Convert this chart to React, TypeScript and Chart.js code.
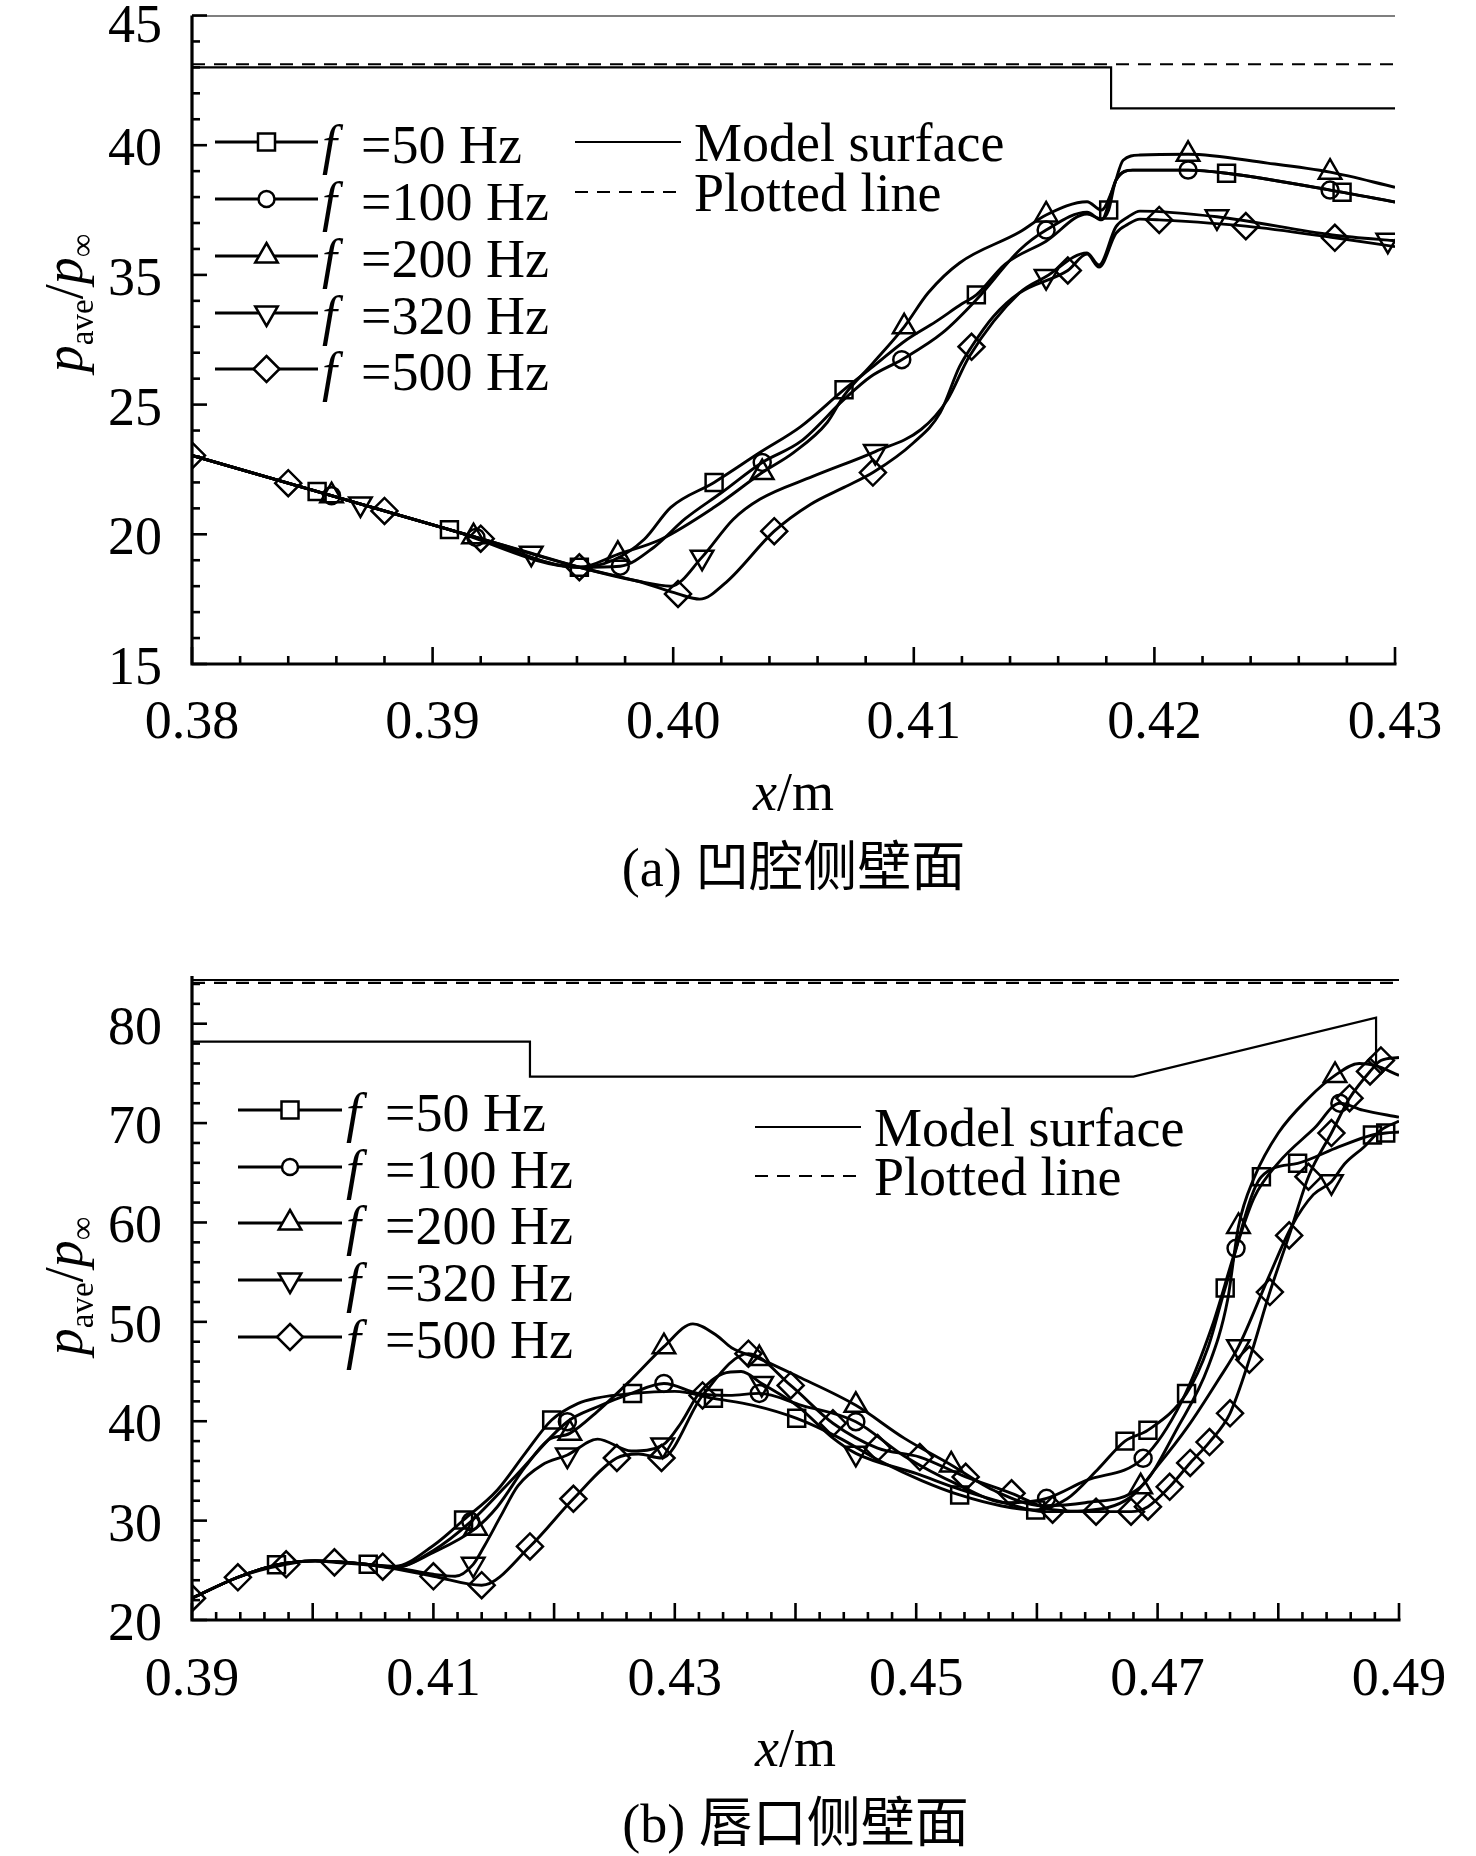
import React, { useEffect, useRef } from "react";
import { Chart, registerables } from "chart.js";
Chart.register(...registerables);

const SERIF = '"Liberation Serif", "Times New Roman", serif';
const CAPFONT = '"Liberation Serif", "Noto Sans CJK SC", serif';
const FS = 54;

// ---------------- shared ----------------
const freqs = [50, 100, 200, 320, 500];
const modelLegend = ["Model surface", "Plotted line"];

// ---------------- panel (a) ----------------
const aXTickValues = [0.38, 0.39, 0.4, 0.41, 0.42, 0.43];
const aXTickLabels = ["0.38", "0.39", "0.40", "0.41", "0.42", "0.43"];
const aYTickLabels = [15, 20, 25, 35, 40, 45]; // as printed, bottom to top (evenly spaced)
const aCaption = "(a) 凹腔侧壁面";

const a50X = [0.38, 0.3852, 0.3907, 0.3961, 0.3975, 0.3988, 0.3999, 0.4017, 0.4036, 0.4053, 0.4071, 0.4083, 0.4097, 0.4109, 0.412, 0.4126, 0.4138, 0.4155, 0.4172, 0.4178, 0.4181, 0.4184, 0.4191, 0.4214, 0.423, 0.4278, 0.43];
const a50Y = [23.04, 21.65, 20.18, 18.73, 19.0, 19.81, 21.04, 22.0, 23.15, 24.15, 26.15, 27.92, 30.0, 31.38, 32.77, 33.46, 35.42, 36.3, 37.35, 37.15, 37.5, 38.65, 39.04, 39.04, 38.92, 38.19, 37.81];
const a50M = [0.3852, 0.3907, 0.3961, 0.4017, 0.4071, 0.4126, 0.4181, 0.423, 0.4278];

const a100X = [0.38, 0.3858, 0.3918, 0.3961, 0.3978, 0.3992, 0.4005, 0.402, 0.4037, 0.4053, 0.4071, 0.4082, 0.4095, 0.4112, 0.4126, 0.4144, 0.4155, 0.4172, 0.4178, 0.4184, 0.4191, 0.4214, 0.423, 0.4273, 0.43];
const a100Y = [23.04, 21.49, 19.88, 18.73, 18.77, 19.5, 20.6, 21.6, 22.77, 23.58, 25.4, 27.15, 28.46, 30.54, 33.08, 35.96, 36.73, 37.42, 37.12, 38.65, 39.04, 39.04, 38.92, 38.27, 37.81];
const a100M = [0.3858, 0.3918, 0.3978, 0.4037, 0.4095, 0.4155, 0.4214, 0.4273];

const a200X = [0.38, 0.3858, 0.3917, 0.3961, 0.3977, 0.3995, 0.4017, 0.4037, 0.405, 0.4064, 0.4071, 0.4083, 0.4096, 0.4106, 0.4119, 0.4144, 0.4155, 0.4172, 0.4178, 0.4183, 0.4187, 0.4194, 0.4214, 0.4247, 0.4273, 0.43];
const a200Y = [23.04, 21.49, 19.91, 18.73, 19.23, 19.81, 21.04, 22.38, 23.15, 24.31, 25.7, 28.2, 31.0, 33.62, 35.46, 36.65, 37.31, 37.82, 37.5, 38.38, 39.42, 39.62, 39.65, 39.31, 38.96, 38.38];
const a200M = [0.3858, 0.3917, 0.3977, 0.4037, 0.4096, 0.4155, 0.4214, 0.4273];

const a320X = [0.38, 0.387, 0.3941, 0.3961, 0.3985, 0.3999, 0.4012, 0.4025, 0.4036, 0.4058, 0.4084, 0.4103, 0.4114, 0.4123, 0.4144, 0.4155, 0.4172, 0.4177, 0.4184, 0.4189, 0.4194, 0.4226, 0.4274, 0.4297, 0.43];
const a320Y = [23.04, 21.17, 19.27, 18.73, 18.2, 18.0, 19.12, 20.58, 21.35, 22.23, 23.19, 24.04, 25.38, 28.69, 33.62, 34.87, 35.85, 35.38, 36.85, 37.23, 37.46, 37.24, 36.54, 36.34, 36.32];
const a320M = [0.387, 0.3941, 0.4012, 0.4084, 0.4155, 0.4226, 0.4297];

const a500X = [0.38, 0.384, 0.388, 0.392, 0.3961, 0.3985, 0.4002, 0.4011, 0.4022, 0.4042, 0.4057, 0.4071, 0.4083, 0.41, 0.4111, 0.4119, 0.4124, 0.4133, 0.4144, 0.4164, 0.4172, 0.4177, 0.4184, 0.4189, 0.4194, 0.4202, 0.4238, 0.4275, 0.43];
const a500Y = [23.04, 21.97, 20.9, 19.83, 18.73, 18.2, 17.7, 17.5, 18.15, 20.12, 21.15, 21.81, 22.38, 23.54, 24.69, 27.92, 29.46, 31.77, 33.62, 35.17, 35.8, 35.3, 36.6, 36.95, 37.15, 37.12, 36.88, 36.43, 36.09];
const a500M = [0.38, 0.384, 0.388, 0.392, 0.3961, 0.4002, 0.4042, 0.4083, 0.4124, 0.4164, 0.4202, 0.4238, 0.4275];

const aTopX = [0.38, 0.43];
const aTopY = [45, 45];
const aModelX = [0.38, 0.4182, 0.4182, 0.43];
const aModelY = [43.0, 43.0, 41.42, 41.42];
const aPlottedX = [0.38, 0.43];
const aPlottedY = [43.12, 43.12];

// ---------------- panel (b) ----------------
const bXLabelValues = [0.39, 0.41, 0.43, 0.45, 0.47, 0.49];
const bXTickLabels = ["0.39", "0.41", "0.43", "0.45", "0.47", "0.49"];
const bYTickLabels = [20, 30, 40, 50, 60, 70, 80];
const bCaption = "(b) 唇口侧壁面";

const b50X = [0.39, 0.3938, 0.397, 0.4002, 0.4046, 0.4068, 0.41, 0.4125, 0.4153, 0.4176, 0.4198, 0.422, 0.4234, 0.4265, 0.43, 0.4332, 0.4365, 0.4401, 0.4435, 0.447, 0.4505, 0.4536, 0.457, 0.4599, 0.4625, 0.465, 0.4673, 0.4692, 0.4724, 0.4742, 0.4756, 0.4786, 0.4816, 0.485, 0.4878, 0.4889, 0.49];
const b50Y = [22.2, 24.3, 25.55, 25.95, 25.6, 25.4, 27.5, 30.06, 33.08, 36.77, 40.12, 41.8, 42.3, 42.8, 43.0, 42.3, 41.6, 40.29, 38.4, 36.0, 34.0, 32.58, 31.5, 31.07, 32.2, 35.1, 38.0, 39.1, 42.8, 47.5, 53.4, 64.6, 65.95, 67.6, 68.8, 69.0, 69.1];
const b50M = [0.397, 0.4046, 0.4125, 0.4198, 0.4265, 0.4332, 0.4401, 0.4536, 0.4599, 0.4673, 0.4692, 0.4724, 0.4756, 0.4786, 0.4816, 0.4878, 0.4889];

const b100X = [0.39, 0.3938, 0.397, 0.4002, 0.4046, 0.4068, 0.41, 0.4131, 0.4168, 0.4211, 0.4236, 0.4264, 0.4291, 0.4319, 0.4345, 0.437, 0.4405, 0.445, 0.449, 0.4535, 0.4575, 0.4608, 0.464, 0.4688, 0.472, 0.4745, 0.4765, 0.478, 0.48, 0.483, 0.4851, 0.487, 0.49];
const b100Y = [22.2, 24.3, 25.55, 25.95, 25.6, 25.3, 27.0, 29.9, 34.5, 39.95, 41.46, 42.8, 43.8, 42.8, 42.6, 42.8, 41.6, 39.95, 36.5, 33.6, 31.8, 32.24, 34.0, 36.27, 42.0, 49.5, 57.4, 62.5, 66.0, 69.5, 72.0, 71.3, 70.6];
const b100M = [0.4131, 0.4211, 0.4291, 0.437, 0.445, 0.4608, 0.4688, 0.4765, 0.4851];

const b200X = [0.39, 0.3938, 0.397, 0.4002, 0.4046, 0.4068, 0.41, 0.4135, 0.4153, 0.4176, 0.4195, 0.4213, 0.4236, 0.4264, 0.4291, 0.4315, 0.4335, 0.4347, 0.437, 0.4402, 0.445, 0.449, 0.4529, 0.4565, 0.4605, 0.464, 0.4686, 0.4717, 0.4742, 0.4758, 0.4767, 0.478, 0.48, 0.4825, 0.4847, 0.4867, 0.488, 0.49];
const b200Y = [22.2, 24.3, 25.55, 25.95, 25.6, 25.3, 26.8, 29.22, 31.4, 35.4, 38.1, 38.78, 41.0, 44.2, 47.5, 49.8, 48.6, 47.4, 46.3, 44.5, 41.6, 38.3, 35.6, 33.0, 31.5, 31.8, 33.4, 39.45, 45.5, 52.2, 59.6, 64.5, 69.0, 72.5, 74.8, 76.0, 75.8, 74.8];
const b200M = [0.4135, 0.4213, 0.4291, 0.437, 0.445, 0.4529, 0.4686, 0.4767, 0.4847];

const b320X = [0.39, 0.3938, 0.397, 0.4002, 0.4046, 0.4068, 0.41, 0.4118, 0.4133, 0.4142, 0.4156, 0.417, 0.419, 0.4211, 0.4236, 0.4264, 0.429, 0.4305, 0.432, 0.434, 0.4355, 0.4372, 0.4402, 0.443, 0.445, 0.4501, 0.4535, 0.4576, 0.4606, 0.464, 0.4678, 0.47, 0.4725, 0.475, 0.4767, 0.4792, 0.4811, 0.4829, 0.4844, 0.4855, 0.4871, 0.4885, 0.49];
const b320Y = [22.2, 24.3, 25.55, 25.95, 25.6, 25.3, 24.6, 24.4, 25.6, 27.4, 30.5, 33.5, 35.6, 36.6, 38.2, 37.0, 37.6, 39.8, 42.8, 44.8, 45.0, 43.8, 41.5, 38.4, 36.77, 34.7, 33.2, 31.7, 30.9, 31.0, 32.4, 35.5, 39.45, 44.1, 47.5, 54.5, 59.6, 62.8, 64.1, 65.9, 67.6, 69.3, 70.2];
const b320M = [0.4133, 0.4211, 0.429, 0.4372, 0.445, 0.4767, 0.4844];

const b500X = [0.39, 0.3938, 0.3978, 0.4002, 0.4018, 0.4058, 0.41, 0.414, 0.418, 0.4216, 0.4252, 0.427, 0.4289, 0.4323, 0.4361, 0.4396, 0.4431, 0.4468, 0.4503, 0.4541, 0.4579, 0.4613, 0.4649, 0.4678, 0.4692, 0.471, 0.4727, 0.4743, 0.476, 0.4776, 0.4793, 0.4809, 0.4825, 0.4844, 0.4859, 0.4876, 0.4885, 0.49];
const b500Y = [22.2, 24.3, 25.6, 25.95, 25.8, 25.36, 24.4, 23.5, 27.4, 32.2, 36.3, 36.7, 36.3, 42.6, 46.8, 43.6, 39.8, 37.3, 36.4, 34.4, 32.75, 31.1, 30.9, 30.9, 31.4, 33.4, 35.8, 37.9, 40.8, 46.2, 53.0, 58.7, 64.6, 69.0, 72.5, 75.2, 76.3, 76.6];
const b500M = [0.39, 0.3938, 0.3978, 0.4018, 0.4058, 0.41, 0.414, 0.418, 0.4216, 0.4252, 0.4289, 0.4323, 0.4361, 0.4396, 0.4431, 0.4468, 0.4503, 0.4541, 0.4579, 0.4613, 0.4649, 0.4678, 0.4692, 0.471, 0.4727, 0.4743, 0.476, 0.4776, 0.4793, 0.4809, 0.4825, 0.4844, 0.4859, 0.4876, 0.4885];

const bTopX = [0.39, 0.49];
const bTopY = [84.4, 84.4];
const bModelX = [0.39, 0.418, 0.418, 0.468, 0.4881, 0.4881];
const bModelY = [78.2, 78.2, 74.67, 74.67, 80.6, 76.0];
const bPlottedX = [0.39, 0.49];
const bPlottedY = [84.1, 84.1];

// ---------------- helpers ----------------
// panel (a): printed labels are evenly spaced -> map printed value to even axis units
function toAxisA(v: number): number {
  const L = aYTickLabels;
  let i = 0;
  while (i < L.length - 2 && v > L[i + 1]) i++;
  return 20 + 5 * (i + (v - L[i]) / (L[i + 1] - L[i]));
}
const ident = (v: number) => v;

const SHAPES = [
  { style: "rect", r: 12, rot: 0, kind: "square" },
  { style: "circle", r: 8.5, rot: 0, kind: "circle" },
  { style: "triangle", r: 13, rot: 0, kind: "up" },
  { style: "triangle", r: 13, rot: 180, kind: "down" },
  { style: "rectRot", r: 13, rot: 0, kind: "diamond" },
];

function seriesDataset(xs: number[], ys: number[], marks: number[], k: number, conv: (v: number) => number) {
  const s = SHAPES[k];
  return {
    data: xs.map((x, i) => ({ x, y: conv(ys[i]) })),
    borderColor: "#000",
    borderWidth: 2.9,
    fill: false,
    cubicInterpolationMode: "monotone",
    pointStyle: s.style,
    pointRotation: s.rot,
    pointRadius: xs.map((x) => (marks.includes(x) ? s.r : 0)),
    pointBorderWidth: 2.5,
    pointBorderColor: "#000",
    pointBackgroundColor: "rgba(255,255,255,0)",
  };
}

function lineDataset(xs: number[], ys: number[], conv: (v: number) => number, dash: number[] = []) {
  return {
    data: xs.map((x, i) => ({ x, y: conv(ys[i]) })),
    borderColor: "#000",
    borderWidth: 2.2,
    borderDash: dash,
    fill: false,
    tension: 0,
    pointRadius: 0,
  };
}

function drawMarker(ctx: CanvasRenderingContext2D, kind: string, x: number, y: number) {
  ctx.beginPath();
  if (kind === "square") {
    ctx.rect(x - 8.5, y - 8.5, 17, 17);
  } else if (kind === "circle") {
    ctx.arc(x, y, 8, 0, Math.PI * 2);
  } else if (kind === "up") {
    ctx.moveTo(x, y - 13);
    ctx.lineTo(x + 11.26, y + 6.5);
    ctx.lineTo(x - 11.26, y + 6.5);
    ctx.closePath();
  } else if (kind === "down") {
    ctx.moveTo(x, y + 13);
    ctx.lineTo(x + 11.26, y - 6.5);
    ctx.lineTo(x - 11.26, y - 6.5);
    ctx.closePath();
  } else {
    ctx.moveTo(x, y - 13);
    ctx.lineTo(x + 13, y);
    ctx.lineTo(x, y + 13);
    ctx.lineTo(x - 13, y);
    ctx.closePath();
  }
  ctx.fillStyle = "#fff";
  ctx.fill();
  ctx.lineWidth = 2.5;
  ctx.strokeStyle = "#000";
  ctx.stroke();
}

type Deco = {
  xMin: number; xMax: number; xMinor: number; xMajorEvery: number;
  yMin: number; yMax: number; yMinor: number; yMajorEvery: number;
  xLabels: { v: number; t: string }[];
  yLabels: { v: number; t: string }[];
  xLabelBase: number; xTitleBase: number; captionBase: number; caption: string;
  yTitleX: number; yTitleY: number; yLabelRight: number;
  legend: { x0: number; x1: number; mx: number; tx: number; rows: number[] };
  legend2: { x0: number; x1: number; tx: number; rows: number[] };
};

function makeDeco(d: Deco) {
  return {
    id: "deco",
    afterDraw(chart: any) {
      const ctx: CanvasRenderingContext2D = chart.ctx;
      const ca = chart.chartArea;
      const sx = chart.scales.x;
      const sy = chart.scales.y;
      ctx.save();
      ctx.strokeStyle = "#000";
      ctx.fillStyle = "#000";
      ctx.lineCap = "butt";
      // axes
      ctx.lineWidth = 3.2;
      ctx.beginPath();
      ctx.moveTo(ca.left, ca.top);
      ctx.lineTo(ca.left, ca.bottom);
      ctx.lineTo(ca.right + 1.5, ca.bottom);
      ctx.stroke();
      // x ticks (inward)
      ctx.lineWidth = 2.6;
      const nX = Math.round((d.xMax - d.xMin) / d.xMinor);
      for (let k = 0; k <= nX; k++) {
        const px = sx.getPixelForValue(d.xMin + k * d.xMinor);
        const len = k % d.xMajorEvery === 0 ? 17 : 8;
        ctx.beginPath();
        ctx.moveTo(px, ca.bottom);
        ctx.lineTo(px, ca.bottom - len);
        ctx.stroke();
      }
      // y ticks (inward)
      const nY = Math.floor((d.yMax - d.yMin) / d.yMinor + 1e-6);
      for (let k = 0; k <= nY; k++) {
        const py = sy.getPixelForValue(d.yMin + k * d.yMinor);
        const len = k % d.yMajorEvery === 0 ? 15 : 8;
        ctx.beginPath();
        ctx.moveTo(ca.left, py);
        ctx.lineTo(ca.left + len, py);
        ctx.stroke();
      }
      // tick labels
      ctx.font = `${FS}px ${SERIF}`;
      ctx.textBaseline = "alphabetic";
      ctx.textAlign = "center";
      for (const l of d.xLabels) {
        ctx.fillText(l.t, sx.getPixelForValue(l.v), d.xLabelBase);
      }
      ctx.textAlign = "right";
      for (const l of d.yLabels) {
        const py = Math.max(sy.getPixelForValue(l.v), 22);
        ctx.fillText(l.t, d.yLabelRight, py + 20);
      }
      // x title: x/m
      const cx = (ca.left + ca.right) / 2;
      ctx.textAlign = "left";
      ctx.font = `italic ${FS}px ${SERIF}`;
      const wX = ctx.measureText("x").width;
      ctx.font = `${FS}px ${SERIF}`;
      const wM = ctx.measureText("/m").width;
      const xx = cx - (wX + wM) / 2;
      ctx.font = `italic ${FS}px ${SERIF}`;
      ctx.fillText("x", xx, d.xTitleBase);
      ctx.font = `${FS}px ${SERIF}`;
      ctx.fillText("/m", xx + wX, d.xTitleBase);
      // caption
      ctx.font = `${FS}px ${CAPFONT}`;
      ctx.textAlign = "center";
      ctx.fillText(d.caption, cx, d.captionBase);
      // y title: p_ave / p_inf (rotated)
      const small = 33;
      const parts = [
        { t: "p", f: `italic ${FS}px ${SERIF}`, dy: 0 },
        { t: "ave", f: `${small}px ${SERIF}`, dy: 11 },
        { t: "/", f: `${FS}px ${SERIF}`, dy: 0 },
        { t: "p", f: `italic ${FS}px ${SERIF}`, dy: 0 },
        { t: "\u221E", f: `${small}px ${SERIF}`, dy: 11 },
      ];
      let tot = 0;
      const ws: number[] = [];
      for (const p of parts) {
        ctx.font = p.f;
        const w = ctx.measureText(p.t).width;
        ws.push(w);
        tot += w;
      }
      ctx.save();
      ctx.translate(d.yTitleX, d.yTitleY);
      ctx.rotate(-Math.PI / 2);
      ctx.textAlign = "left";
      let px0 = -tot / 2;
      parts.forEach((p, i) => {
        ctx.font = p.f;
        ctx.fillText(p.t, px0, p.dy);
        px0 += ws[i];
      });
      ctx.restore();
      // frequency legend
      const L = d.legend;
      freqs.forEach((f, i) => {
        const y = L.rows[i];
        ctx.lineWidth = 2.9;
        ctx.strokeStyle = "#000";
        ctx.beginPath();
        ctx.moveTo(L.x0, y);
        ctx.lineTo(L.x1, y);
        ctx.stroke();
        drawMarker(ctx, SHAPES[i].kind, L.mx, y);
        ctx.fillStyle = "#000";
        ctx.textAlign = "left";
        ctx.font = `italic ${FS}px ${SERIF}`;
        ctx.fillText("f", L.tx, y + 21);
        ctx.font = `${FS}px ${SERIF}`;
        ctx.fillText(`=${f} Hz`, L.tx + 39, y + 21);
      });
      // model legend
      const M = d.legend2;
      ctx.lineWidth = 2.2;
      ctx.beginPath();
      ctx.moveTo(M.x0, M.rows[0]);
      ctx.lineTo(M.x1, M.rows[0]);
      ctx.stroke();
      ctx.setLineDash([13, 9]);
      ctx.beginPath();
      ctx.moveTo(M.x0, M.rows[1]);
      ctx.lineTo(M.x1, M.rows[1]);
      ctx.stroke();
      ctx.setLineDash([]);
      ctx.font = `${FS}px ${SERIF}`;
      ctx.textAlign = "left";
      modelLegend.forEach((t, i) => ctx.fillText(t, M.tx, M.rows[i] + 19));
      ctx.restore();
    },
  };
}

function buildA() {
  const datasets: any[] = [
    seriesDataset(a50X, a50Y, a50M, 0, toAxisA),
    seriesDataset(a100X, a100Y, a100M, 1, toAxisA),
    seriesDataset(a200X, a200Y, a200M, 2, toAxisA),
    seriesDataset(a320X, a320Y, a320M, 3, toAxisA),
    seriesDataset(a500X, a500Y, a500M, 4, toAxisA),
    lineDataset(aTopX, aTopY, toAxisA),
    lineDataset(aModelX, aModelY, toAxisA),
    lineDataset(aPlottedX, aPlottedY, toAxisA, [13, 9]),
  ];
  const deco = makeDeco({
    xMin: 0.38, xMax: 0.43, xMinor: 0.002, xMajorEvery: 5,
    yMin: 20, yMax: 45, yMinor: 1, yMajorEvery: 5,
    xLabels: aXTickValues.map((v, i) => ({ v, t: aXTickLabels[i] })),
    yLabels: aYTickLabels.map((t, i) => ({ v: 20 + 5 * i, t: String(t) })),
    xLabelBase: 738, xTitleBase: 810, captionBase: 886, caption: aCaption,
    yTitleX: 82, yTitleY: 303, yLabelRight: 162,
    legend: { x0: 215, x1: 318, mx: 266.5, tx: 322, rows: [142, 199, 256, 313, 369] },
    legend2: { x0: 575, x1: 681, tx: 694, rows: [142, 192] },
  });
  return {
    type: "line",
    data: { datasets },
    options: {
      responsive: false,
      animation: false,
      events: [],
      layout: { padding: { left: 192, right: 81, top: 15, bottom: 236 } },
      plugins: { legend: { display: false }, tooltip: { enabled: false } },
      scales: {
        x: { type: "linear", min: 0.38, max: 0.43, display: false },
        y: { type: "linear", min: 20, max: 45, display: false },
      },
    },
    plugins: [deco],
  };
}

function buildB() {
  const datasets: any[] = [
    seriesDataset(b50X, b50Y, b50M, 0, ident),
    seriesDataset(b100X, b100Y, b100M, 1, ident),
    seriesDataset(b200X, b200Y, b200M, 2, ident),
    seriesDataset(b320X, b320Y, b320M, 3, ident),
    seriesDataset(b500X, b500Y, b500M, 4, ident),
    lineDataset(bTopX, bTopY, ident),
    lineDataset(bModelX, bModelY, ident),
    lineDataset(bPlottedX, bPlottedY, ident, [13, 9]),
  ];
  const deco = makeDeco({
    xMin: 0.39, xMax: 0.49, xMinor: 0.002, xMajorEvery: 5,
    yMin: 20, yMax: 84.8, yMinor: 2, yMajorEvery: 5,
    xLabels: bXLabelValues.map((v, i) => ({ v, t: bXTickLabels[i] })),
    yLabels: bYTickLabels.map((v) => ({ v, t: String(v) })),
    xLabelBase: 795, xTitleBase: 866, captionBase: 942, caption: bCaption,
    yTitleX: 82, yTitleY: 386, yLabelRight: 162,
    legend: { x0: 238, x1: 342, mx: 290, tx: 346, rows: [210, 267, 323, 380, 437] },
    legend2: { x0: 755, x1: 861, tx: 874, rows: [227, 276] },
  });
  return {
    type: "line",
    data: { datasets },
    options: {
      responsive: false,
      animation: false,
      events: [],
      layout: { padding: { left: 192, right: 77, top: 76, bottom: 236 } },
      plugins: { legend: { display: false }, tooltip: { enabled: false } },
      scales: {
        x: { type: "linear", min: 0.39, max: 0.49, display: false },
        y: { type: "linear", min: 20, max: 84.8, display: false },
      },
    },
    plugins: [deco],
  };
}

function ChartCanvas({ build, top, height }: { build: () => any; top: number; height: number }) {
  const ref = useRef<HTMLCanvasElement>(null);
  useEffect(() => {
    const chart = new Chart(ref.current as HTMLCanvasElement, build());
    return () => chart.destroy();
  }, []);
  return (
    <canvas
      ref={ref}
      width={1476}
      height={height}
      style={{ position: "absolute", left: 0, top, width: 1476, height }}
    />
  );
}

export default function App() {
  return (
    <div style={{ position: "absolute", left: 0, top: 0, width: 1476, height: 1856, background: "#fff" }}>
      <ChartCanvas build={buildA} top={0} height={900} />
      <ChartCanvas build={buildB} top={900} height={956} />
    </div>
  );
}
